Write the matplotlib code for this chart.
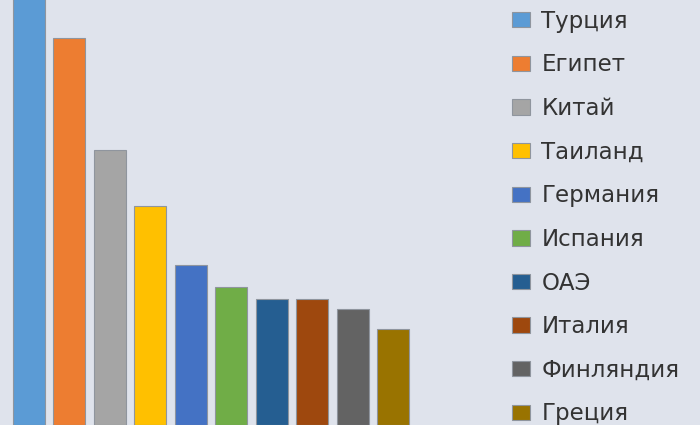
import matplotlib.pyplot as plt

countries = ['Турция', 'Египет', 'Китай', 'Таиланд', 'Германия',
             'Испания', 'ОАЭ', 'Италия', 'Финляндия', 'Греция']
values = [450, 387, 275, 219, 160, 138, 126, 126, 116, 96]
colors = ['#5B9BD5', '#ED7D31', '#A5A5A5', '#FFC000', '#4472C4',
          '#70AD47', '#255E91', '#9E480E', '#636363', '#997300']

bg = '#dfe3ec'
fig = plt.figure(figsize=(7, 4.25), dpi=100, facecolor=bg)
ax = fig.add_axes([0, 0, 1, 1])
ax.set_facecolor(bg)

bars = ax.bar(range(len(countries)), values, width=0.79, color=colors,
              edgecolor='#8f959e', linewidth=0.8)
ax.set_xlim(-0.716, 16.57)
ax.set_ylim(0, 425)
ax.axis('off')

fig.legend(list(bars), countries, loc='upper left', bbox_to_anchor=(0.731, 0.977),
           frameon=False, fontsize=16.5, labelcolor='#333333',
           handlelength=0.79, handleheight=0.66, handletextpad=0.5,
           labelspacing=0.9, borderpad=0, borderaxespad=0)

plt.savefig('out.png', dpi=100, facecolor=bg)
